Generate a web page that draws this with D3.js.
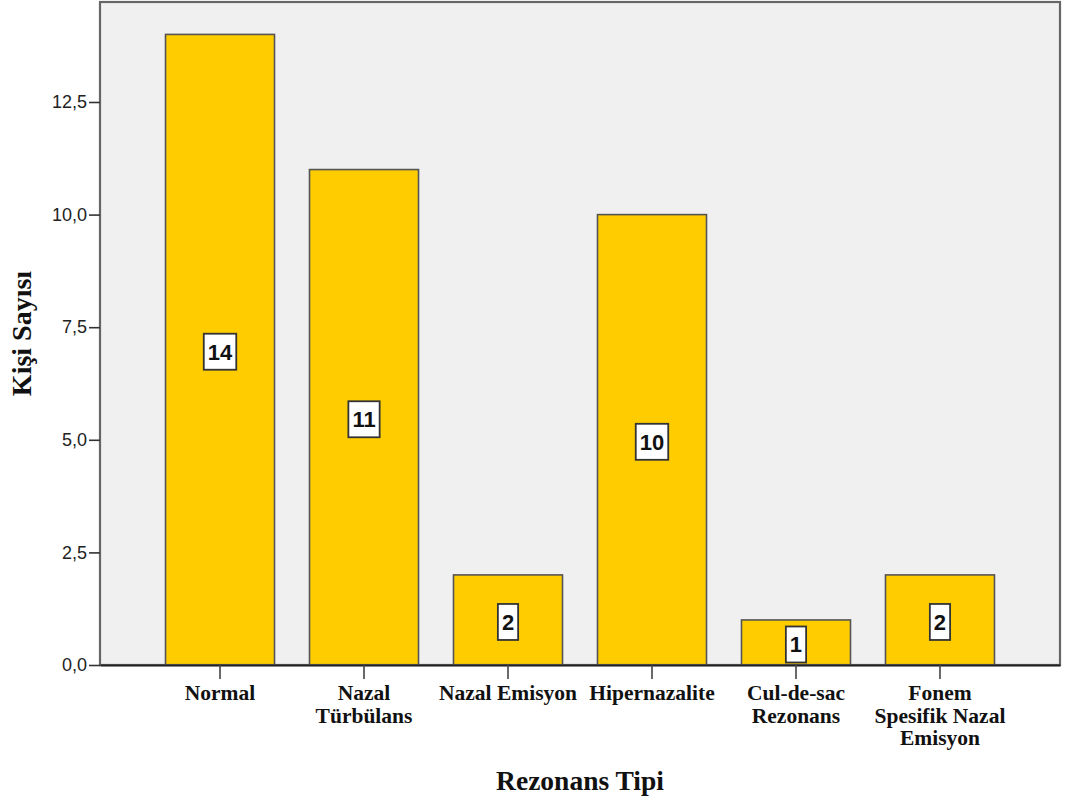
<!DOCTYPE html>
<html><head><meta charset="utf-8">
<script src="https://cdn.jsdelivr.net/npm/d3@7"></script>
<style>body{margin:0;background:#fff}svg{display:block}</style>
</head><body>
<svg id="c" width="1066" height="802"></svg>
<script>
const categories = ["Normal", "Nazal Türbülans", "Nazal Emisyon", "Hipernazalite", "Cul-de-sac Rezonans", "Fonem Spesifik Nazal Emisyon"];
const labelLines = [["Normal"], ["Nazal", "Türbülans"], ["Nazal Emisyon"], ["Hipernazalite"], ["Cul-de-sac", "Rezonans"], ["Fonem", "Spesifik Nazal", "Emisyon"]];
const values = [14, 11, 2, 10, 1, 2];
const yTicks = [0, 2.5, 5, 7.5, 10, 12.5];
const xTitle = "Rezonans Tipi";
const yTitle = "Kişi Sayısı";

const svg = d3.select("#c");
const L = 100, R = 1060, T = 2, B = 665;
const x = d3.scaleBand().domain(categories).range([L, R]).paddingInner(0.243).paddingOuter(0.455);
const y = d3.scaleLinear().domain([0, 14.72]).range([B, T]);

svg.append("rect").attr("x", L).attr("y", T).attr("width", R - L).attr("height", B - T)
  .attr("fill", "#f0f0f0");

svg.selectAll("rect.bar").data(values).enter().append("rect").attr("class", "bar")
  .attr("x", (d, i) => x(categories[i])).attr("y", d => y(d))
  .attr("width", x.bandwidth()).attr("height", d => B - y(d))
  .attr("fill", "#ffcc00").attr("stroke", "#555").attr("stroke-width", 1.6);

svg.append("rect").attr("x", L).attr("y", T).attr("width", R - L).attr("height", B - T)
  .attr("fill", "none").attr("stroke", "#666").attr("stroke-width", 2.2);

// Y axis
const ya = svg.append("g").attr("transform", `translate(${L},0)`)
  .call(d3.axisLeft(y).tickValues(yTicks).tickSize(11).tickPadding(2)
    .tickFormat(d => d3.format(".1f")(d).replace(".", ",")));
ya.select(".domain").remove();
ya.selectAll(".tick line").attr("stroke", "#333").attr("stroke-width", 1.6);
ya.selectAll(".tick text").attr("font-family", "Liberation Sans, Arial, sans-serif")
  .attr("font-size", 18).attr("fill", "#222");

// X axis
const xa = svg.append("g").attr("transform", `translate(0,${B})`)
  .call(d3.axisBottom(x).tickSize(14).tickSizeOuter(0).tickFormat(""));
xa.select(".domain").attr("stroke", "#222").attr("stroke-width", 1.8);
xa.selectAll(".tick line").attr("stroke", "#444").attr("stroke-width", 1.6);

const lab = svg.append("g").selectAll("text").data(categories).enter().append("text")
  .attr("x", d => x(d) + x.bandwidth() / 2).attr("y", 700)
  .attr("text-anchor", "middle").attr("font-family", "Liberation Serif, Times New Roman, serif")
  .attr("font-weight", "bold").attr("font-size", 21.5).attr("fill", "#111");
lab.each(function(d, i) {
  const t = d3.select(this);
  labelLines[i].forEach((ln, k) => {
    t.append("tspan").attr("x", x(d) + x.bandwidth() / 2).attr("dy", k === 0 ? 0 : 22.5).text(ln);
  });
});

// Value labels
const vl = svg.append("g").selectAll("g").data(values).enter().append("g")
  .attr("transform", (d, i) => `translate(${x(categories[i]) + x.bandwidth() / 2},${y(d / 2) + 2})`);
vl.each(function(d) {
  const g = d3.select(this);
  const txt = g.append("text").attr("text-anchor", "middle").attr("dy", "0.36em")
    .attr("font-family", "Liberation Sans, Arial, sans-serif").attr("font-weight", "bold")
    .attr("font-size", 22).attr("fill", "#111").text(d);
  const w = txt.node().getComputedTextLength() + 8;
  g.insert("rect", "text").attr("x", -w / 2).attr("y", -18).attr("width", w).attr("height", 36)
    .attr("fill", "#fff").attr("stroke", "#333").attr("stroke-width", 1.8);
});

// Titles
svg.append("text").attr("x", (L + R) / 2).attr("y", 790).attr("text-anchor", "middle")
  .attr("font-family", "Liberation Serif, Times New Roman, serif").attr("font-weight", "bold")
  .attr("font-size", 27.5).attr("fill", "#111").text(xTitle);
svg.append("text").attr("transform", `translate(31,${(T + B) / 2}) rotate(-90)`)
  .attr("text-anchor", "middle")
  .attr("font-family", "Liberation Serif, Times New Roman, serif").attr("font-weight", "bold")
  .attr("font-size", 28).attr("fill", "#111").text(yTitle);
</script>
</body></html>
